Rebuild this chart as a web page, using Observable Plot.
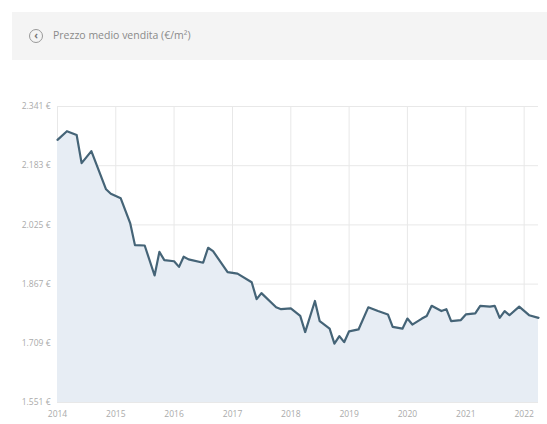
<!DOCTYPE html>
<html><head><meta charset="utf-8">
<script src="https://cdn.jsdelivr.net/npm/d3@7"></script>
<script src="https://cdn.jsdelivr.net/npm/@observablehq/plot@0.6"></script>
<style>
body{margin:0;background:#fff;font-family:"Open Sans",sans-serif;width:547px;height:424px;overflow:hidden;position:relative}
#hdr{position:absolute;left:12px;top:12px;width:535px;height:48px;background:#f4f4f4;}
#hdr .ic{position:absolute;left:17px;top:17px;width:14px;height:14px;border:1.5px solid #999;border-radius:50%;box-sizing:border-box;font-size:10px;line-height:10px;text-align:center;color:#777;font-weight:bold}
#hdr .t{position:absolute;left:41px;top:16px;font-size:10.5px;color:#8a8a8a;}
#chart{position:absolute;left:0;top:80px}
</style></head><body>
<div id="hdr"><div class="ic">&lsaquo;</div><div class="t">Prezzo medio vendita (€/m²)</div></div>
<div id="chart"></div>
<script>
const title = "Prezzo medio vendita (€/m²)";
// month offsets from Jan 2014
const months = [0,2,4,5,7,10,11,13,15,16,18,20,21,22,24,25,26,27,30,31,32,35,37,40,41,42,45,46,48,50,51,53,54,56,57,58,59,60,62,64,66,68,69,71,72,73,75,76,77,79,80,81,83,84,86,87,89,90,91,92,93,95,97,99];
const prices = [2252,2275,2265,2190,2222,2120,2108,2096,2030,1971,1970,1890,1953,1931,1928,1913,1940,1933,1924,1964,1955,1899,1895,1872,1827,1843,1805,1800,1802,1782,1739,1822,1768,1748,1708,1728,1712,1741,1746,1805,1795,1786,1753,1748,1775,1759,1775,1782,1809,1795,1800,1768,1771,1786,1789,1809,1807,1809,1777,1795,1784,1807,1784,1777];
const yTicks = [1551,1709,1867,2025,2183,2341];
const xYears = [2014,2015,2016,2017,2018,2019,2020,2021,2022];

const data = months.map((m,i)=>({date:new Date(2014, m, 1), value:prices[i]}));
const fmt = v => d3.format(",")(v).replace(/,/g,".") + " €";
const yLow = yTicks[0];

const chart = Plot.plot({
  width:547, height:344,
  marginLeft:57, marginRight:9, marginTop:26, marginBottom:22,
  style:{fontFamily:"Open Sans, sans-serif", fontSize:"8.5px", color:"#aaa", background:"transparent"},
  x:{type:"utc", domain:[new Date(2014,0,1), new Date(2014,99,1)], ticks:xYears.map(y=>new Date(y,0,1)), tickFormat:d=>String(d.getFullYear()), tickSize:0, tickPadding:8, label:null},
  y:{domain:[yLow, yTicks[yTicks.length-1]], ticks:yTicks, tickFormat:fmt, tickSize:0, tickPadding:7, label:null},
  marks:[
    Plot.gridX(xYears.map(y=>new Date(y,0,1)), {stroke:"#e8e8e8", strokeOpacity:1}),
    Plot.gridY(yTicks, {stroke:"#e8e8e8", strokeOpacity:1}),
    Plot.areaY(data, {x:"date", y1:yLow, y2:"value", fill:"#e7edf4"}),
    Plot.lineY(data, {x:"date", y:"value", stroke:"#456477", strokeWidth:2.2, strokeLinejoin:"round"})
  ]
});
document.getElementById("chart").append(chart);
</script>
</body></html>
